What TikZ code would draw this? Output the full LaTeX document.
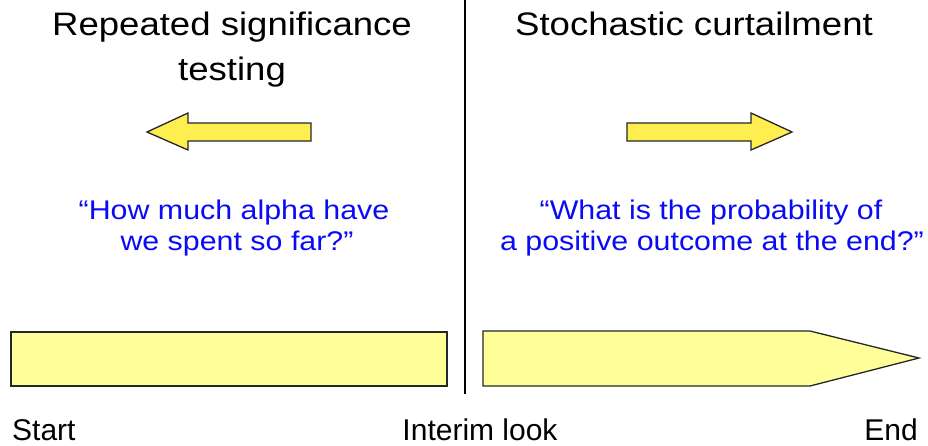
\documentclass[tikz,border=0pt]{standalone}
\usepackage{fontspec}
\setmainfont{Liberation Sans}
\definecolor{arrowyellow}{RGB}{255,238,80}
\definecolor{baryellow}{RGB}{255,255,153}
\definecolor{quoteblue}{RGB}{10,10,245}
\newcommand{\wide}[1]{\scalebox{1.125}[1]{#1}}
\begin{document}
\begin{tikzpicture}[x=1pt,y=-1pt,
  shapeline/.style={draw=black!85,line width=1.3pt,line join=miter},
  bigarrow/.style={shapeline,fill=arrowyellow},
  barshape/.style={shapeline,fill=baryellow},
  titletext/.style={anchor=base,inner sep=0pt,font=\fontsize{32.5}{45}\selectfont},
  quotetext/.style={anchor=base,inner sep=0pt,text=quoteblue,font=\fontsize{27}{31}\selectfont},
  labeltext/.style={inner sep=0pt,font=\fontsize{30}{34}\selectfont}]
\useasboundingbox (0,0) rectangle (928,445);
% divider
\coordinate (divtop) at (465,0);
\coordinate (divbot) at (465,394);
\draw[line width=1.3pt] (divtop) -- (divbot);
% titles
\node[titletext] (t1a) at (232,35) {\wide{Repeated significance}};
\node[titletext] (t1b) at (232,80) {\wide{testing}};
\node[titletext] (t2) at (694,35) {\wide{Stochastic curtailment}};
% arrows
\draw[bigarrow] (147,132) -- (188,113) -- (188,123) -- (311,123) -- (311,141) -- (188,141) -- (188,150) -- cycle;
\draw[bigarrow] (627,123) -- (751,123) -- (751,113) -- (792,132) -- (751,150) -- (751,141) -- (627,141) -- cycle;
% quotes
\node[quotetext] (q1a) at (234,219) {\wide{“How much alpha have}};
\node[quotetext] (q1b) at (237,250) {\wide{we spent so far?”}};
\node[quotetext] (q2a) at (711,219) {\wide{“What is the probability of}};
\node[quotetext] (q2b) at (712,250) {\wide{a positive outcome at the end?”}};
% bars
\draw[barshape] (11,332) rectangle (447,386);
\draw[barshape] (483,331) -- (810,331) -- (919,358) -- (810,386) -- (483,386) -- cycle;
% bottom labels
\node[labeltext,anchor=base west] (start) at (12,440) {Start};
\node[labeltext,anchor=base] (interim) at (480,440) {Interim look};
\node[labeltext,anchor=base east] (end) at (918,440) {End};
\end{tikzpicture}
\end{document}
